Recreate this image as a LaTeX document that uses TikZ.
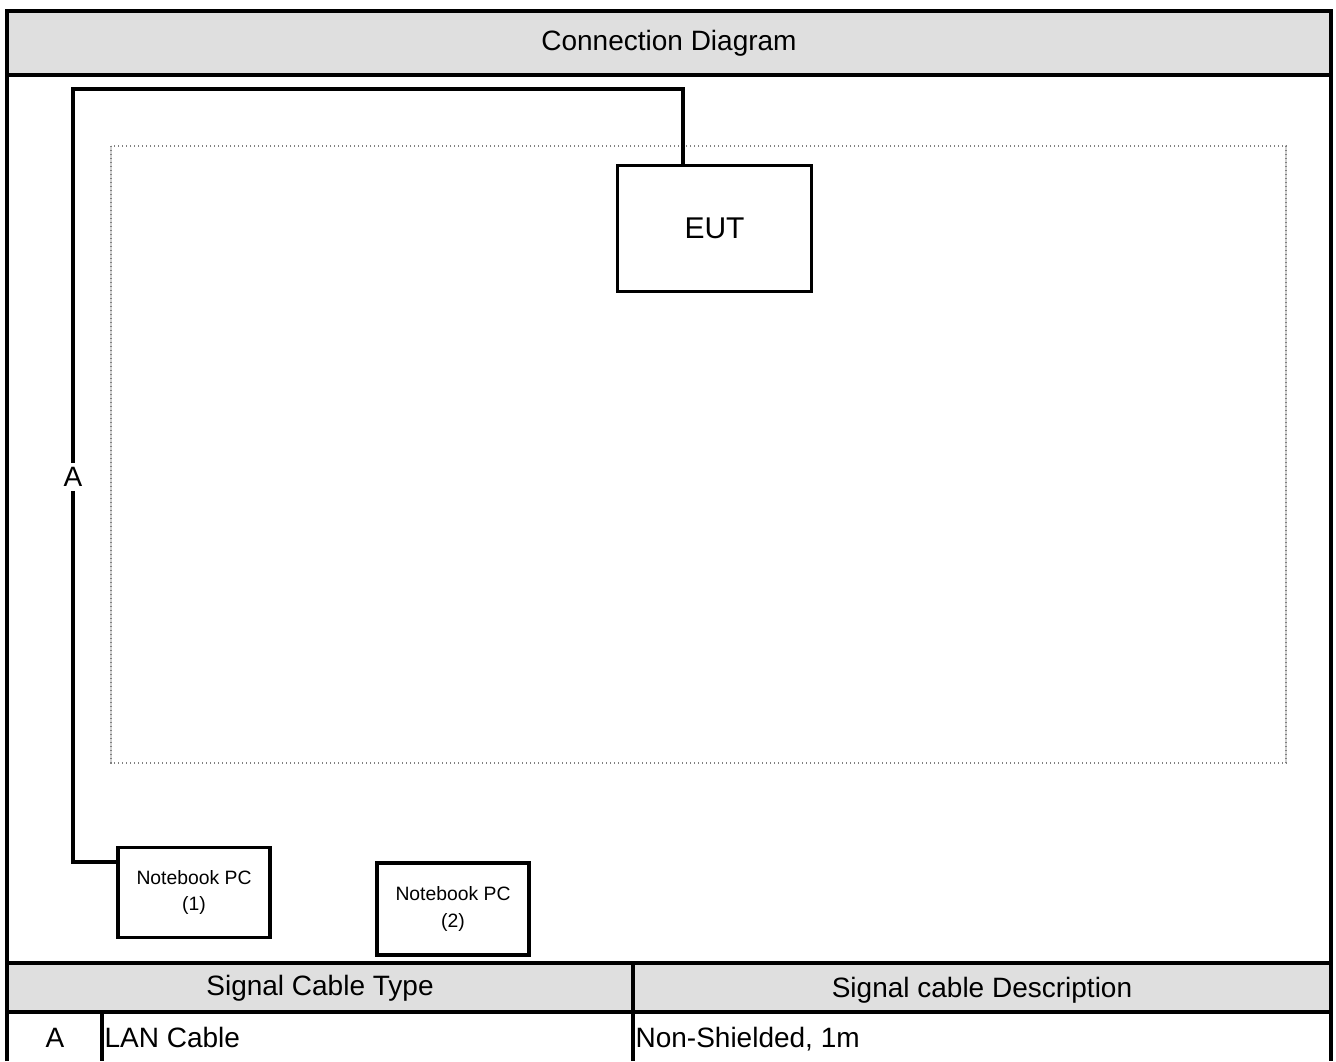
\documentclass[tikz,border=0pt]{standalone}
\usepackage{fontspec}
\setmainfont{Liberation Sans}
\usepackage{xcolor}
\definecolor{headgray}{HTML}{DFDFDF}
\usepackage{tikz}
\usetikzlibrary{positioning,calc}

\begin{document}
\begin{tikzpicture}[x=0.75pt,y=-0.75pt,
  frame/.style={line width=2.6pt},
  unit/.style={draw,line width=2.3pt,align=center,inner sep=0pt},
  cable/.style={line width=2.4pt},
  big/.style={font=\fontsize{21}{24}\selectfont},
  small/.style={font=\fontsize{14.5}{20}\selectfont}]
\useasboundingbox (0,0) rectangle (1336,1061);
% gray header bands
\fill[headgray] (7,11) rectangle (1331,75);
\fill[headgray] (7,963) rectangle (1331,1012);
% test table (dotted outline)
\draw[gray!35,line width=1pt] (111,146) -- (111,763) (1286,146) -- (1286,763);
\draw[gray,dotted,line width=1pt] (111,146) rectangle (1286,763);
% units
\node[unit,minimum width=146pt,minimum height=95pt,font=\fontsize{22.5}{26}\selectfont] (eut) at (714.5,228.5) {EUT};
\node[unit,small,minimum width=114pt,minimum height=68pt] (pc1) at (194,892.5) {Notebook PC\\(1)};
\node[unit,small,minimum width=114pt,minimum height=69pt] (pc2) at (453,909) {Notebook PC\\(2)};
% cable A
\coordinate (eutport) at (683,165);
\coordinate (topbend) at (73,89);
\coordinate (lowbend) at (73,862);
\node[big,inner sep=3pt] (lblA) at (73,477) {A};
\draw[cable] (lblA.north) -- (topbend) -| (eutport);
\draw[cable] (lblA.south) -- (lowbend) -- (lowbend -| pc1.west);
% frame and table lines
\draw[frame] (7,1061) -- (7,11) -- (1331,11) -- (1331,1061);
\draw[frame] (7,75) -- (1331,75);
\draw[frame] (7,963) -- (1331,963);
\draw[frame] (7,1012) -- (1331,1012);
\draw[frame] (633,963) -- (633,1061);
\draw[frame] (102,1012) -- (102,1061);
% texts
\node[big] (title) at (669,43) {Connection Diagram};
\node[big] (typehead) at (320,988) {Signal Cable Type};
\node[big] (deschead) at (982,990) {Signal cable Description};
\node[big,anchor=base] (rowid) at (55,1047) {A};
\node[big,anchor=base west,inner sep=1pt] (rowtype) at (103,1047) {LAN Cable};
\node[big,anchor=base west,inner sep=1pt] (rowdesc) at (634,1047) {Non-Shielded, 1m};
\end{tikzpicture}
\end{document}
